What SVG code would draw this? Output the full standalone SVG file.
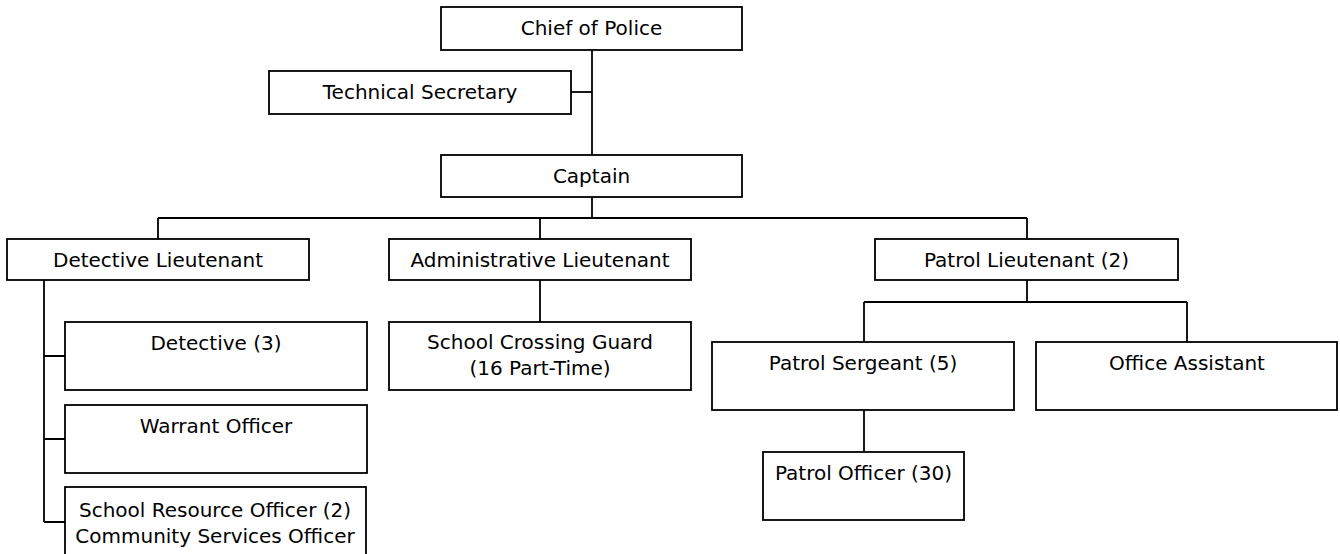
<svg xmlns="http://www.w3.org/2000/svg" width="1340" height="554" viewBox="0 0 1340 554">
<style>
.box{fill:#fff;stroke:#000;stroke-width:1.8}
.lbl{font-family:"DejaVu Sans","Verdana",sans-serif;font-size:20px;fill:#000;text-anchor:middle}
.conn{fill:none;stroke:#000;stroke-width:1.8}
</style>
<rect width="1340" height="554" fill="#fff"/>
<g id="connectors" class="conn">
<path d="M592 50V155"/>
<path d="M571 92H592"/>
<path d="M592 197V218"/>
<path d="M158 218H1027"/>
<path d="M158 218V239M540 218V239M1027 218V239"/>
<path d="M44 280V522"/>
<path d="M44 356H65M44 439H65M44 522H65"/>
<path d="M540 280V322"/>
<path d="M1027 280V302"/>
<path d="M864 302H1187"/>
<path d="M864 302V342M1187 302V342"/>
<path d="M864 410V452"/>
</g>
<g id="chief"><rect class="box" x="441" y="7" width="301" height="43"/><text class="lbl" x="591.5" y="34.5">Chief of Police</text></g>
<g id="tech-secretary"><rect class="box" x="269" y="71" width="302" height="43"/><text class="lbl" x="420" y="99">Technical Secretary</text></g>
<g id="captain"><rect class="box" x="441" y="155" width="301" height="42"/><text class="lbl" x="591.5" y="182.5">Captain</text></g>
<g id="detective-lt"><rect class="box" x="7" y="239" width="302" height="41"/><text class="lbl" x="158" y="266.5">Detective Lieutenant</text></g>
<g id="admin-lt"><rect class="box" x="389" y="239" width="302" height="41"/><text class="lbl" x="540" y="266.5">Administrative Lieutenant</text></g>
<g id="patrol-lt"><rect class="box" x="875" y="239" width="303" height="41"/><text class="lbl" x="1026.5" y="266.5">Patrol Lieutenant (2)</text></g>
<g id="detective"><rect class="box" x="65" y="322" width="302" height="68"/><text class="lbl" x="216" y="350">Detective (3)</text></g>
<g id="warrant"><rect class="box" x="65" y="405" width="302" height="68"/><text class="lbl" x="216" y="433">Warrant Officer</text></g>
<g id="sro"><rect class="box" x="65" y="487" width="301" height="70"/><text class="lbl" x="215" y="517">School Resource Officer (2)</text><text class="lbl" x="215" y="543">Community Services Officer</text></g>
<g id="crossing-guard"><rect class="box" x="389" y="322" width="302" height="68"/><text class="lbl" x="540" y="349">School Crossing Guard</text><text class="lbl" x="540" y="375">(16 Part-Time)</text></g>
<g id="patrol-sergeant"><rect class="box" x="712" y="342" width="302" height="68"/><text class="lbl" x="863" y="370">Patrol Sergeant (5)</text></g>
<g id="office-assistant"><rect class="box" x="1036" y="342" width="301" height="68"/><text class="lbl" x="1187" y="370">Office Assistant</text></g>
<g id="patrol-officer"><rect class="box" x="763" y="452" width="201" height="68"/><text class="lbl" x="863.5" y="479.5">Patrol Officer (30)</text></g>
</svg>
